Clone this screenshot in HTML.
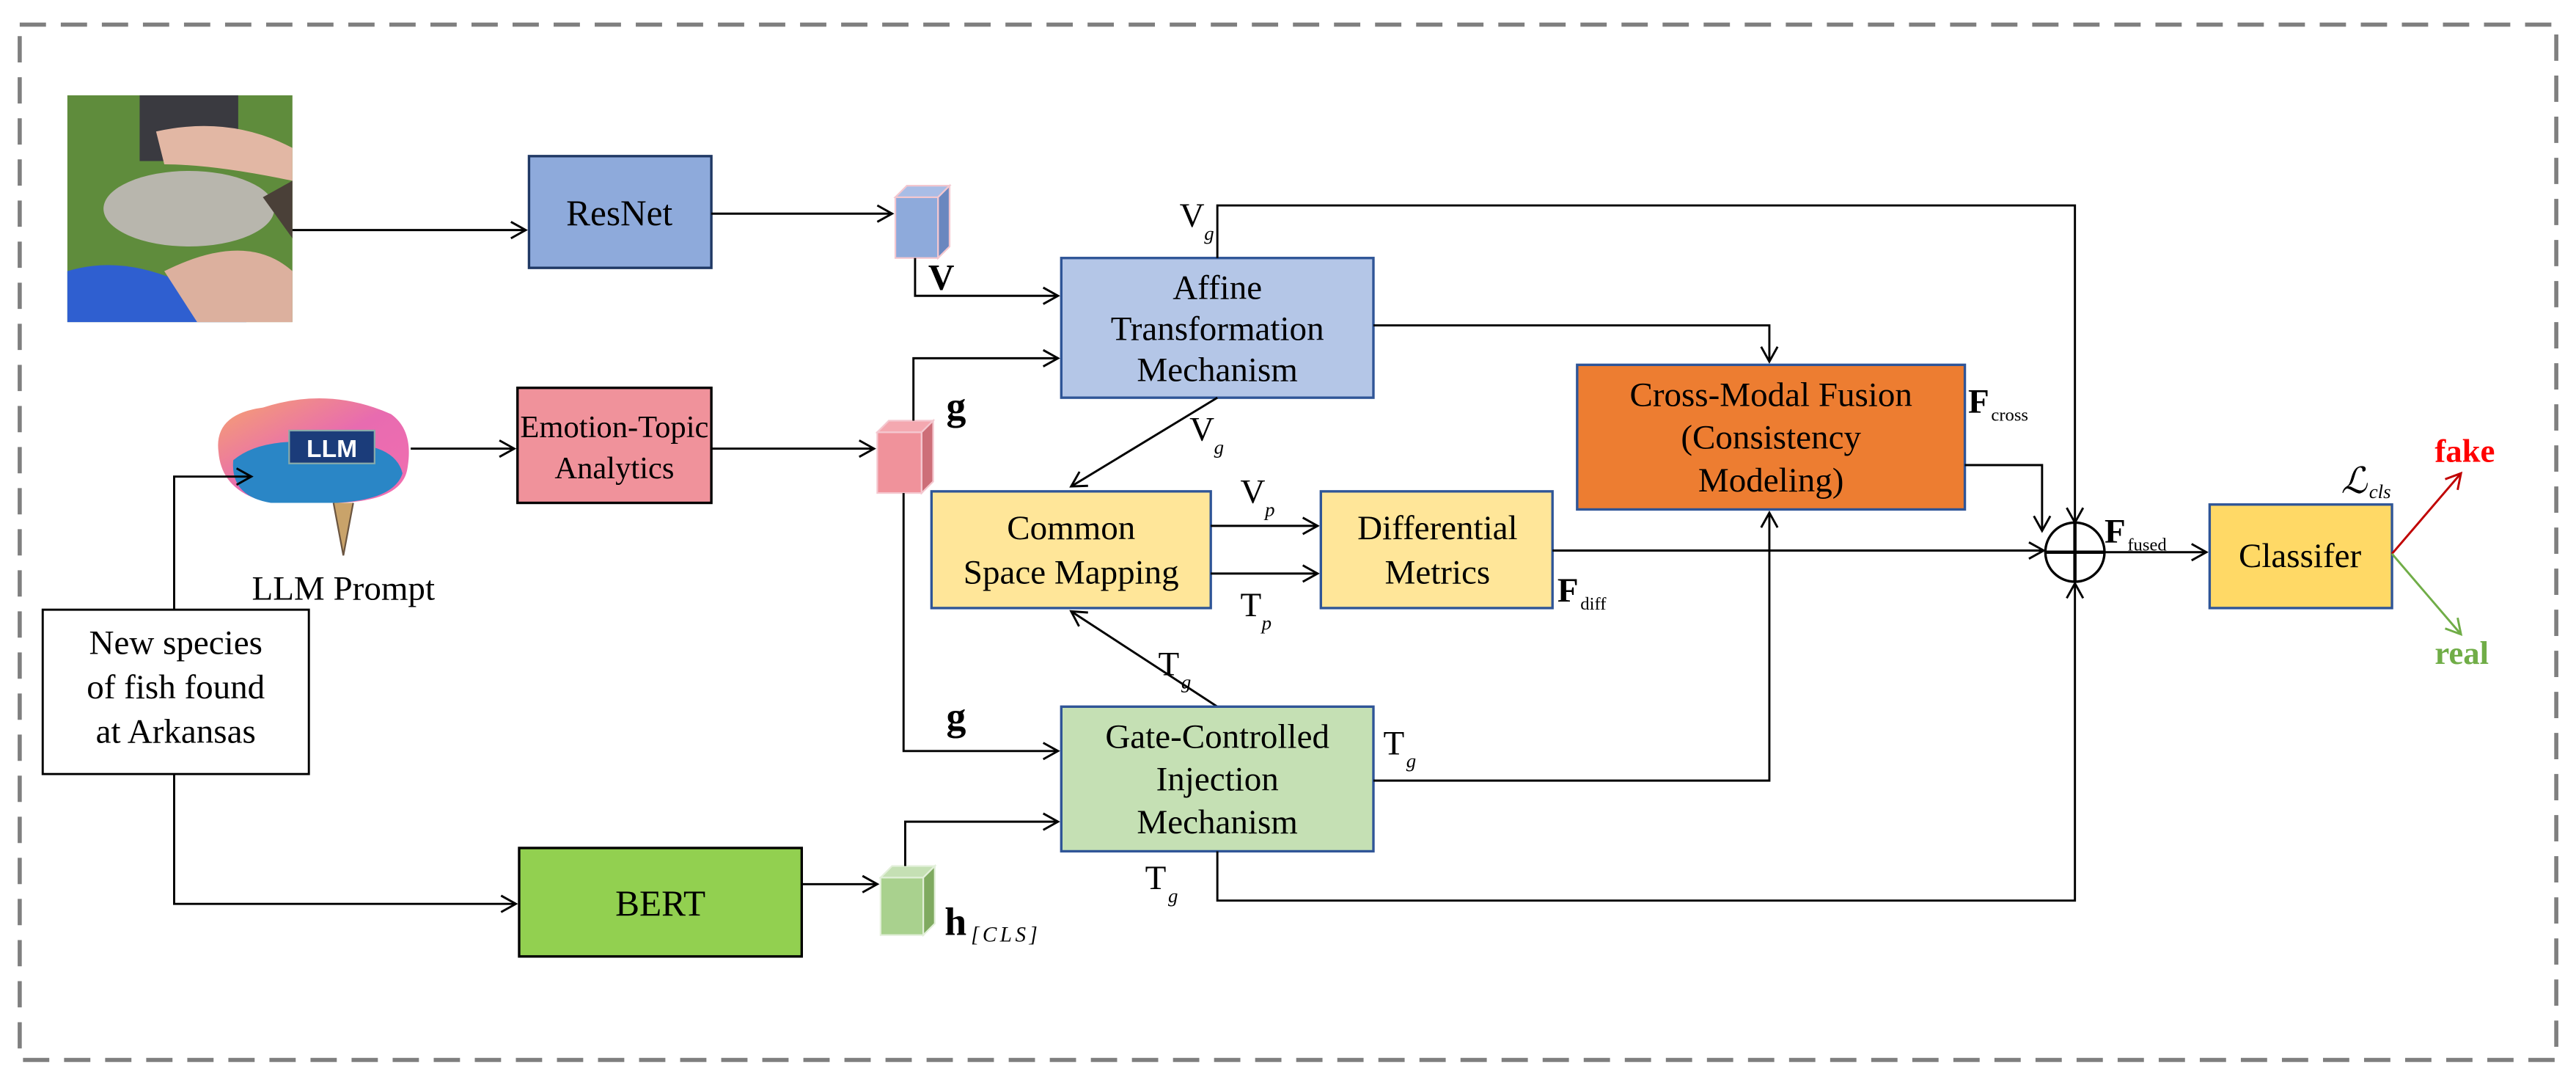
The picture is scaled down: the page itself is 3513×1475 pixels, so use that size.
<!DOCTYPE html>
<html><head><meta charset="utf-8"><style>
html,body{margin:0;padding:0;background:#fff}
svg{display:block}
text{font-family:"Liberation Serif",serif;fill:#000}
</style></head><body>
<svg width="3513" height="1475" viewBox="0 0 1568 658.4" preserveAspectRatio="none" xmlns="http://www.w3.org/2000/svg">
<defs>
<marker id="a" markerWidth="12" markerHeight="12" refX="10" refY="6" orient="auto" markerUnits="userSpaceOnUse"><path d="M1,1 L10,6 L1,11" fill="none" stroke="#000" stroke-width="1.3"/></marker>
<marker id="ar" markerWidth="12" markerHeight="12" refX="10" refY="6" orient="auto" markerUnits="userSpaceOnUse"><path d="M1,1 L10,6 L1,11" fill="none" stroke="#c00000" stroke-width="1.3"/></marker>
<marker id="ag" markerWidth="12" markerHeight="12" refX="10" refY="6" orient="auto" markerUnits="userSpaceOnUse"><path d="M1,1 L10,6 L1,11" fill="none" stroke="#70ad47" stroke-width="1.3"/></marker>
<linearGradient id="br" x1="0" y1="0" x2="1" y2="1"><stop offset="0" stop-color="#f6a36e"/><stop offset="0.5" stop-color="#e86bb0"/><stop offset="1" stop-color="#f26fb0"/></linearGradient>
</defs>
<rect x="12" y="15" width="1544" height="630" fill="none" stroke="#7f7f7f" stroke-width="2.5" stroke-dasharray="16,9"/>

<!-- fish photo -->
<rect x="41" y="58" width="137" height="138" fill="#5f8c3c"/>
<rect x="85" y="58" width="60" height="40" fill="#3a3a40"/>
<path d="M41,165 Q90,150 150,196 L41,196Z" fill="#2f5fd0"/>
<path d="M95,80 Q140,70 178,90 L178,110 Q130,100 100,100Z" fill="#e2b7a4"/>
<path d="M100,165 Q150,140 178,165 L178,196 L120,196Z" fill="#dcb09e"/>
<ellipse cx="115" cy="127" rx="52" ry="23" fill="#b8b6ad"/>
<path d="M160,120 L178,110 L178,145Z" fill="#4a4038"/>

<!-- brain -->
<path d="M133,275 Q130,252 160,248 Q200,235 238,252 Q252,262 248,285 Q245,305 205,306 L165,306 Q135,300 133,275Z" fill="url(#br)"/>
<path d="M142,280 Q160,265 200,270 Q240,268 245,288 Q240,304 205,306 L165,306 Q140,302 142,280Z" fill="#2a86c6"/>
<rect x="176" y="262" width="52" height="20" fill="#1b3c7a" stroke="#8aa" stroke-width="1"/>
<text x="202" y="278" font-size="15" font-weight="bold" text-anchor="middle" style="fill:#fff;font-family:'Liberation Sans',sans-serif">LLM</text>
<path d="M203,306 L209,338 L215,306" fill="#c9a36a" stroke="#6b5540" stroke-width="1"/>
<text x="209" y="365" font-size="21" text-anchor="middle">LLM Prompt</text>

<!-- text box -->
<rect x="26" y="371" width="162" height="100" fill="#fff" stroke="#000" stroke-width="1.3"/>
<text x="107" y="398" font-size="21" text-anchor="middle">New species</text>
<text x="107" y="425" font-size="21" text-anchor="middle">of fish found</text>
<text x="107" y="452" font-size="21" text-anchor="middle">at Arkansas</text>
<path d="M106,371 V290 H153" fill="none" stroke="#000" stroke-width="1.3" marker-end="url(#a)"/>
<path d="M106,471 V550 H314" fill="none" stroke="#000" stroke-width="1.3" marker-end="url(#a)"/>

<!-- ResNet -->
<path d="M178,140 H320" stroke="#000" stroke-width="1.3" marker-end="url(#a)"/>
<rect x="322" y="95" width="111" height="68" fill="#8eaadb" stroke="#1f3864" stroke-width="1.5"/>
<text x="377" y="137" font-size="22" text-anchor="middle">ResNet</text>
<path d="M433,130 H543" stroke="#000" stroke-width="1.3" marker-end="url(#a)"/>

<!-- Emotion -->
<path d="M250,273 H313" stroke="#000" stroke-width="1.3" marker-end="url(#a)"/>
<rect x="315" y="236" width="118" height="70" fill="#f0929b" stroke="#000" stroke-width="1.5"/>
<text x="374" y="266" font-size="19" text-anchor="middle">Emotion-Topic</text>
<text x="374" y="291" font-size="19" text-anchor="middle">Analytics</text>
<path d="M433,273 H532" stroke="#000" stroke-width="1.3" marker-end="url(#a)"/>

<!-- BERT -->
<rect x="316" y="516" width="172" height="66" fill="#92d050" stroke="#000" stroke-width="1.5"/>
<text x="402" y="557" font-size="22" text-anchor="middle">BERT</text>
<path d="M488,538 H534" stroke="#000" stroke-width="1.3" marker-end="url(#a)"/>

<!-- cubes -->
<g stroke="#f4c7cf" stroke-width="1">
<rect x="545" y="120" width="26" height="37" fill="#8eaadb"/>
<path d="M545,120 L552,113 L578,113 L571,120Z" fill="#a9bde6"/>
<path d="M571,120 L578,113 L578,150 L571,157Z" fill="#6a87bf"/>
<rect x="534" y="263" width="27" height="37" fill="#f0929b"/>
<path d="M534,263 L541,256 L568,256 L561,263Z" fill="#f4a8b0"/>
<path d="M561,263 L568,256 L568,293 L561,300Z" fill="#cd6e78"/>
</g>
<g stroke="#e2efd9" stroke-width="1">
<rect x="536" y="534" width="26" height="35" fill="#a9d18e"/>
<path d="M536,534 L543,527 L569,527 L562,534Z" fill="#c5e0b4"/>
<path d="M562,534 L569,527 L569,562 L562,569Z" fill="#7faa60"/>
</g>

<!-- inputs to affine -->
<path d="M557,157 V180 H644" fill="none" stroke="#000" stroke-width="1.3" marker-end="url(#a)"/>
<text x="565" y="176" font-size="22" font-weight="bold">V</text>
<path d="M556,256 V218 H644" fill="none" stroke="#000" stroke-width="1.3" marker-end="url(#a)"/>
<text x="576" y="255" font-size="24" font-weight="bold">g</text>
<path d="M550,300 V457 H644" fill="none" stroke="#000" stroke-width="1.3" marker-end="url(#a)"/>
<text x="576" y="444" font-size="24" font-weight="bold">g</text>
<path d="M551,527 V500 H644" fill="none" stroke="#000" stroke-width="1.3" marker-end="url(#a)"/>
<text x="575" y="569" font-size="24" font-weight="bold">h</text>
<text x="591" y="573" font-size="13" font-style="italic" letter-spacing="2">[CLS]</text>

<!-- Affine -->
<rect x="646" y="157" width="190" height="85" fill="#b4c6e7" stroke="#2f5597" stroke-width="1.5"/>
<text x="741" y="182" font-size="21" text-anchor="middle">Affine</text>
<text x="741" y="207" font-size="21" text-anchor="middle">Transformation</text>
<text x="741" y="232" font-size="21" text-anchor="middle">Mechanism</text>
<text x="718" y="138" font-size="21">V</text><text x="733" y="146" font-size="12" font-style="italic">g</text>
<path d="M741,157 V125 H1263 V318" fill="none" stroke="#000" stroke-width="1.3" marker-end="url(#a)"/>
<path d="M836,198 H1077 V220" fill="none" stroke="#000" stroke-width="1.3" marker-end="url(#a)"/>

<!-- Common -->
<path d="M741,242 L652,296" stroke="#000" stroke-width="1.3" marker-end="url(#a)"/>
<text x="724" y="268" font-size="21">V</text><text x="739" y="276" font-size="12" font-style="italic">g</text>
<rect x="567" y="299" width="170" height="71" fill="#ffe699" stroke="#2f5597" stroke-width="1.5"/>
<text x="652" y="328" font-size="21" text-anchor="middle">Common</text>
<text x="652" y="355" font-size="21" text-anchor="middle">Space Mapping</text>
<path d="M737,320 H802" stroke="#000" stroke-width="1.3" marker-end="url(#a)"/>
<path d="M737,349 H802" stroke="#000" stroke-width="1.3" marker-end="url(#a)"/>
<text x="755" y="306" font-size="21">V</text><text x="770" y="314" font-size="12" font-style="italic">p</text>
<text x="755" y="375" font-size="21">T</text><text x="768" y="383" font-size="12" font-style="italic">p</text>

<!-- Differential -->
<rect x="804" y="299" width="141" height="71" fill="#ffe699" stroke="#2f5597" stroke-width="1.5"/>
<text x="875" y="328" font-size="21" text-anchor="middle">Differential</text>
<text x="875" y="355" font-size="21" text-anchor="middle">Metrics</text>
<path d="M945,335 H1244" stroke="#000" stroke-width="1.3" marker-end="url(#a)"/>
<text x="948" y="366" font-size="21" font-weight="bold">F</text><text x="962" y="371" font-size="11">diff</text>

<!-- Gate -->
<path d="M741,430 L652,372" stroke="#000" stroke-width="1.3" marker-end="url(#a)"/>
<text x="705" y="411" font-size="21">T</text><text x="719" y="419" font-size="12" font-style="italic">g</text>
<rect x="646" y="430" width="190" height="88" fill="#c5e0b4" stroke="#2f5597" stroke-width="1.5"/>
<text x="741" y="455" font-size="21" text-anchor="middle">Gate-Controlled</text>
<text x="741" y="481" font-size="21" text-anchor="middle">Injection</text>
<text x="741" y="507" font-size="21" text-anchor="middle">Mechanism</text>
<text x="842" y="459" font-size="21">T</text><text x="856" y="467" font-size="12" font-style="italic">g</text>
<path d="M836,475 H1077 V312" fill="none" stroke="#000" stroke-width="1.3" marker-end="url(#a)"/>
<text x="697" y="541" font-size="21">T</text><text x="711" y="549" font-size="12" font-style="italic">g</text>
<path d="M741,518 V548 H1263 V355" fill="none" stroke="#000" stroke-width="1.3" marker-end="url(#a)"/>

<!-- Cross modal -->
<rect x="960" y="222" width="236" height="88" fill="#ed7d31" stroke="#2f5597" stroke-width="1.5"/>
<text x="1078" y="247" font-size="21" text-anchor="middle">Cross-Modal Fusion</text>
<text x="1078" y="273" font-size="21" text-anchor="middle">(Consistency</text>
<text x="1078" y="299" font-size="21" text-anchor="middle">Modeling)</text>
<text x="1198" y="251" font-size="21" font-weight="bold">F</text><text x="1212" y="256" font-size="11">cross</text>
<path d="M1196,283 H1243 V323" fill="none" stroke="#000" stroke-width="1.3" marker-end="url(#a)"/>

<!-- circle -->
<circle cx="1263" cy="336" r="18" fill="#fff" stroke="#000" stroke-width="1.5"/>
<path d="M1245,336 H1281 M1263,318 V354" stroke="#000" stroke-width="2"/>
<path d="M1281,336 H1343" stroke="#000" stroke-width="1.3" marker-end="url(#a)"/>
<text x="1281" y="330" font-size="21" font-weight="bold">F</text><text x="1295" y="335" font-size="11">fused</text>

<!-- classifier -->
<rect x="1345" y="307" width="111" height="63" fill="#ffd966" stroke="#2f5597" stroke-width="1.5"/>
<text x="1400" y="345" font-size="21" text-anchor="middle">Classifer</text>
<text x="1425" y="300" font-size="22" font-style="italic">ℒ</text><text x="1442" y="303" font-size="12" font-style="italic">cls</text>
<path d="M1456,337 L1498,288" stroke="#c00000" stroke-width="1.3" marker-end="url(#ar)"/>
<path d="M1456,337 L1498,386" stroke="#70ad47" stroke-width="1.3" marker-end="url(#ag)"/>
<text x="1482" y="281" font-size="20" font-weight="bold" style="fill:#ff0000">fake</text>
<text x="1482" y="404" font-size="20" font-weight="bold" style="fill:#70ad47">real</text>
</svg>
</body></html>
